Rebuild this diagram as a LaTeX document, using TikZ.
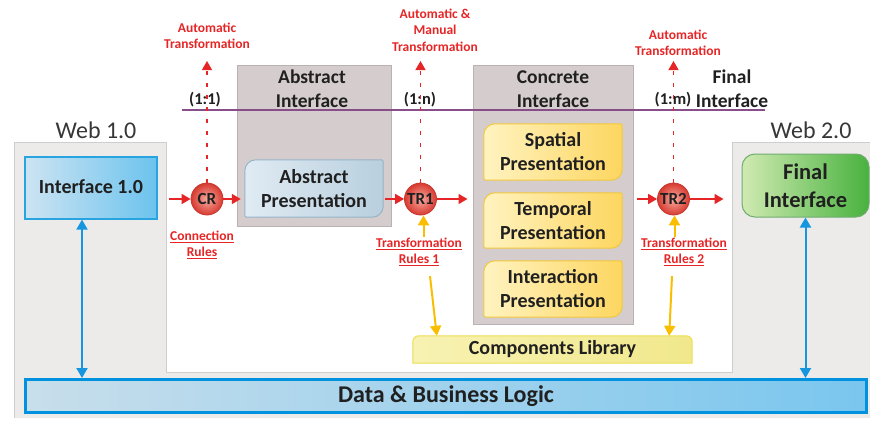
\documentclass[tikz,border=0pt]{standalone}
\usepackage{fontspec}
\setmainfont{Carlito}
\usetikzlibrary{arrows.meta}
\pgfdeclarelayer{bg}
\pgfdeclarelayer{mid}
\pgfsetlayers{bg,mid,main}
\definecolor{redtxt}{RGB}{230,38,38}
\definecolor{greyfill}{RGB}{213,205,205}
\definecolor{greyline}{RGB}{186,178,178}
\definecolor{panelfill}{RGB}{236,235,234}
\definecolor{panelline}{RGB}{206,206,206}
\definecolor{purp}{RGB}{135,78,138}
\definecolor{blueline}{RGB}{22,150,222}
\definecolor{yel}{RGB}{250,190,0}
\definecolor{txt}{RGB}{32,32,32}
\definecolor{webtxt}{RGB}{55,55,55}
\definecolor{circline}{RGB}{200,55,48}
\definecolor{circin}{RGB}{248,170,160}
\definecolor{circout}{RGB}{215,58,48}
\definecolor{ifl}{RGB}{205,228,242}
\definecolor{ifr}{RGB}{108,195,238}
\definecolor{ifline}{RGB}{40,165,225}
\definecolor{apl}{RGB}{224,235,243}
\definecolor{apr}{RGB}{184,207,222}
\definecolor{apline}{RGB}{150,180,200}
\definecolor{yell}{RGB}{255,243,192}
\definecolor{yelr}{RGB}{253,214,96}
\definecolor{yelline}{RGB}{242,200,60}
\definecolor{libl}{RGB}{247,242,178}
\definecolor{libr}{RGB}{241,232,140}
\definecolor{libline}{RGB}{238,222,80}
\definecolor{finl}{RGB}{208,234,178}
\definecolor{finr}{RGB}{72,178,62}
\definecolor{finline}{RGB}{112,172,112}
\definecolor{datal}{RGB}{200,222,235}
\definecolor{datar}{RGB}{122,198,238}
\definecolor{dataline}{RGB}{0,146,222}
\newcommand{\myfs}[2]{\fontsize{#1}{#2}\selectfont}
\newcommand{\rul}[1]{\setbox0\hbox{#1}\rlap{\rule[-2.2pt]{\wd0}{0.8pt}}\box0}
\tikzset{
  hdr/.style={font=\bfseries\myfs{19.5}{24}, text=txt, align=center, inner sep=0pt},
  redlab/.style={font=\bfseries\myfs{13.5}{16.5}, text=redtxt, align=center, inner sep=0pt},
  ratio/.style={font=\bfseries\myfs{16.5}{19}, text=txt, inner sep=0pt},
  webl/.style={font=\myfs{24}{28}, text=webtxt, inner sep=0pt},
  greybox/.style={draw=greyline, fill=greyfill, line width=1pt, inner sep=0pt},
  boxtext/.style={font=\bfseries\myfs{20}{24}, text=txt, align=center, inner sep=0pt},
  rulecirc/.style={circle, draw=circline, line width=0.8pt, inner color=circin, outer color=circout, minimum size=32pt, inner sep=0pt, font=\bfseries\myfs{17}{20}, text=txt},
  redarrow/.style={draw=redtxt, line width=1.6pt, -{Triangle[length=9pt,width=10pt]}},
  dasharrow/.style={redarrow, line width=1.3pt, dash pattern=on 4pt off 8pt},
  bluearrow/.style={draw=blueline, line width=2pt, {Triangle[length=10pt,width=11pt]}-{Triangle[length=10pt,width=11pt]}},
  yarrow/.style={draw=yel, line width=2pt, -{Triangle[length=10pt,width=11pt]}},
  apshape/.style={draw=apline, line width=1pt, left color=apl, right color=apr},
  yshape/.style={draw=yelline, line width=1pt, left color=yell, right color=yelr},
}
\begin{document}
\begin{tikzpicture}[x=1pt,y=-1pt]
\useasboundingbox (0,0) rectangle (870,423);
\begin{pgfonlayer}{bg}
  \fill[white] (0,0) rectangle (870,423);
  \fill[panelfill] (14,142) -- (166,142) -- (166,372) -- (732,372) -- (732,142) -- (870,142) -- (870,418) -- (14,418) -- cycle;
  \draw[panelline, line width=1pt] (14,418) -- (14,142) -- (166,142) -- (166,372) -- (732,372) -- (732,142) -- (870,142);
  \node[greybox, minimum width=154pt, minimum height=161pt] (ai) at (314,145.5) {};
  \node[greybox, minimum width=160pt, minimum height=259pt] (ci) at (553,194.5) {};
\end{pgfonlayer}

% purple separator
\draw[purp, line width=2pt] (182,110) -- (765,110);

% main boxes
\node[boxtext, minimum width=132pt, minimum height=62pt, draw=ifline, line width=1.2pt, left color=ifl, right color=ifr] (if1) at (91,188) {\raisebox{3pt}{Interface 1.0}};
\node[boxtext, font=\bfseries\myfs{24}{28}, minimum width=841pt, minimum height=33pt, draw=dataline, line width=3pt, left color=datal, right color=datar] (data) at (446,396) {Data \& Business Logic};
\node[boxtext, font=\bfseries\myfs{22.5}{28}, minimum width=127pt, minimum height=63pt, rounded corners=13pt, draw=finline, line width=1pt, left color=finl, right color=finr] (fin) at (805.5,185.5) {Final\\Interface};

\node[boxtext, minimum width=138pt, minimum height=57pt] (ap) at (314,188.5) {Abstract\\Presentation};
\node[boxtext, minimum width=138pt, minimum height=56pt] (sp) at (553,152) {Spatial\\Presentation};
\node[boxtext, minimum width=138pt, minimum height=55pt] (tp) at (553,220.5) {Temporal\\Presentation};
\node[boxtext, minimum width=138pt, minimum height=56pt] (ip) at (553,289) {Interaction\\Presentation};
\node[boxtext, minimum width=279pt, minimum height=27pt] (lib) at (552.5,349.5) {Components Library};

\begin{pgfonlayer}{mid}
  \draw[apshape] (ap.west) [rounded corners=11pt] -- (ap.north west) [rounded corners=2pt] -- (ap.north east) [rounded corners=11pt] -- (ap.south east) [rounded corners=2pt] -- (ap.south west) -- cycle;
  \foreach \n in {sp,tp,ip}{
    \draw[yshape] (\n.west) [rounded corners=11pt] -- (\n.north west) [rounded corners=2pt] -- (\n.north east) [rounded corners=11pt] -- (\n.south east) [rounded corners=2pt] -- (\n.south west) -- cycle;
  }
  \draw[draw=libline, line width=1pt, left color=libl, right color=libr] (lib.south) -- (lib.south west) [rounded corners=6pt] -- (lib.north west) -- (lib.north east) [sharp corners] -- (lib.south east) -- cycle;
\end{pgfonlayer}

% headers
\node[hdr] (ailab) at (312,89) {Abstract\\Interface};
\node[hdr] (cilab) at (553,89) {Concrete\\Interface};
\node[hdr] (filab) at (732,89) {Final\\Interface};
\node[webl] (web1) at (96,130) {Web 1.0};
\node[webl] (web2) at (811,130) {Web 2.0};

% ratios
\node[ratio] (r11) at (205,100) {(1:1)};
\node[ratio] (r1n) at (420,100) {(1:n)};
\node[ratio] (r1m) at (673,100) {(1:m)};

% transformation labels
\node[redlab] (at1) at (207,36) {Automatic\\Transformation};
\node[redlab] (at2) at (435,30) {Automatic \&\\Manual\\Transformation};
\node[redlab] (at3) at (678,43) {Automatic\\Transformation};

% rule circles
\node[rulecirc] (cr) at (207,199) {CR};
\node[rulecirc] (tr1) at (420.5,199) {TR1};
\node[rulecirc] (tr2) at (673.5,199) {TR2};

% rule labels
\node[redlab, anchor=north] (crlab) at (202,230.5) {\rul{Connection}\\\rul{Rules}};
\node[redlab, anchor=north] (tr1lab) at (419,237.5) {\rul{Transformation}\\\rul{Rules 1}};
\node[redlab, anchor=north] (tr2lab) at (684,237.5) {\rul{Transformation}\\\rul{Rules 2}};

% red flow arrows
\draw[redarrow, shorten <=11pt] (if1.east |- cr) -- (cr.west);
\draw[redarrow, shorten >=4pt] (cr.east) -- (cr -| ap.west);
\draw[redarrow, shorten <=2pt] (ap.east |- tr1) -- (tr1.west);
\draw[redarrow, shorten >=5pt] (tr1.east) -- (tr1 -| ci.west);
\draw[redarrow, shorten <=3pt] (ci.east |- tr2) -- (tr2.west);
\draw[redarrow, shorten >=18pt] (tr2.east) -- (tr2 -| fin.west);

% dashed up arrows
\coordinate (up1) at (207,61);
\coordinate (up2) at (420.5,61);
\coordinate (up3) at (673.5,61);
\draw[dasharrow] (cr.north) -- (up1);
\draw[dasharrow] (tr1.north) -- (up2);
\draw[dasharrow] (tr2.north) -- (up3);

% blue arrows
\draw[bluearrow] ([xshift=-9pt]if1.south) -- ([xshift=-9pt]if1.south |- data.north);
\draw[bluearrow] (fin.south) -- (fin.south |- data.north);

% yellow arrows
\draw[yarrow] ([xshift=3pt,yshift=1pt]tr1.south |- tr1lab.north) -- ([xshift=3pt]tr1.south);
\draw[yarrow] ([xshift=11pt,yshift=-10pt]tr1lab.south) -- ([xshift=24pt]lib.north west);
\draw[yarrow] ([xshift=1pt,yshift=1pt]tr2.south |- tr2lab.north) -- ([xshift=1pt]tr2.south);
\draw[yarrow] ([xshift=-12pt,yshift=-10pt]tr2lab.south) -- ([xshift=-23pt]lib.north east);
\end{tikzpicture}
\end{document}
